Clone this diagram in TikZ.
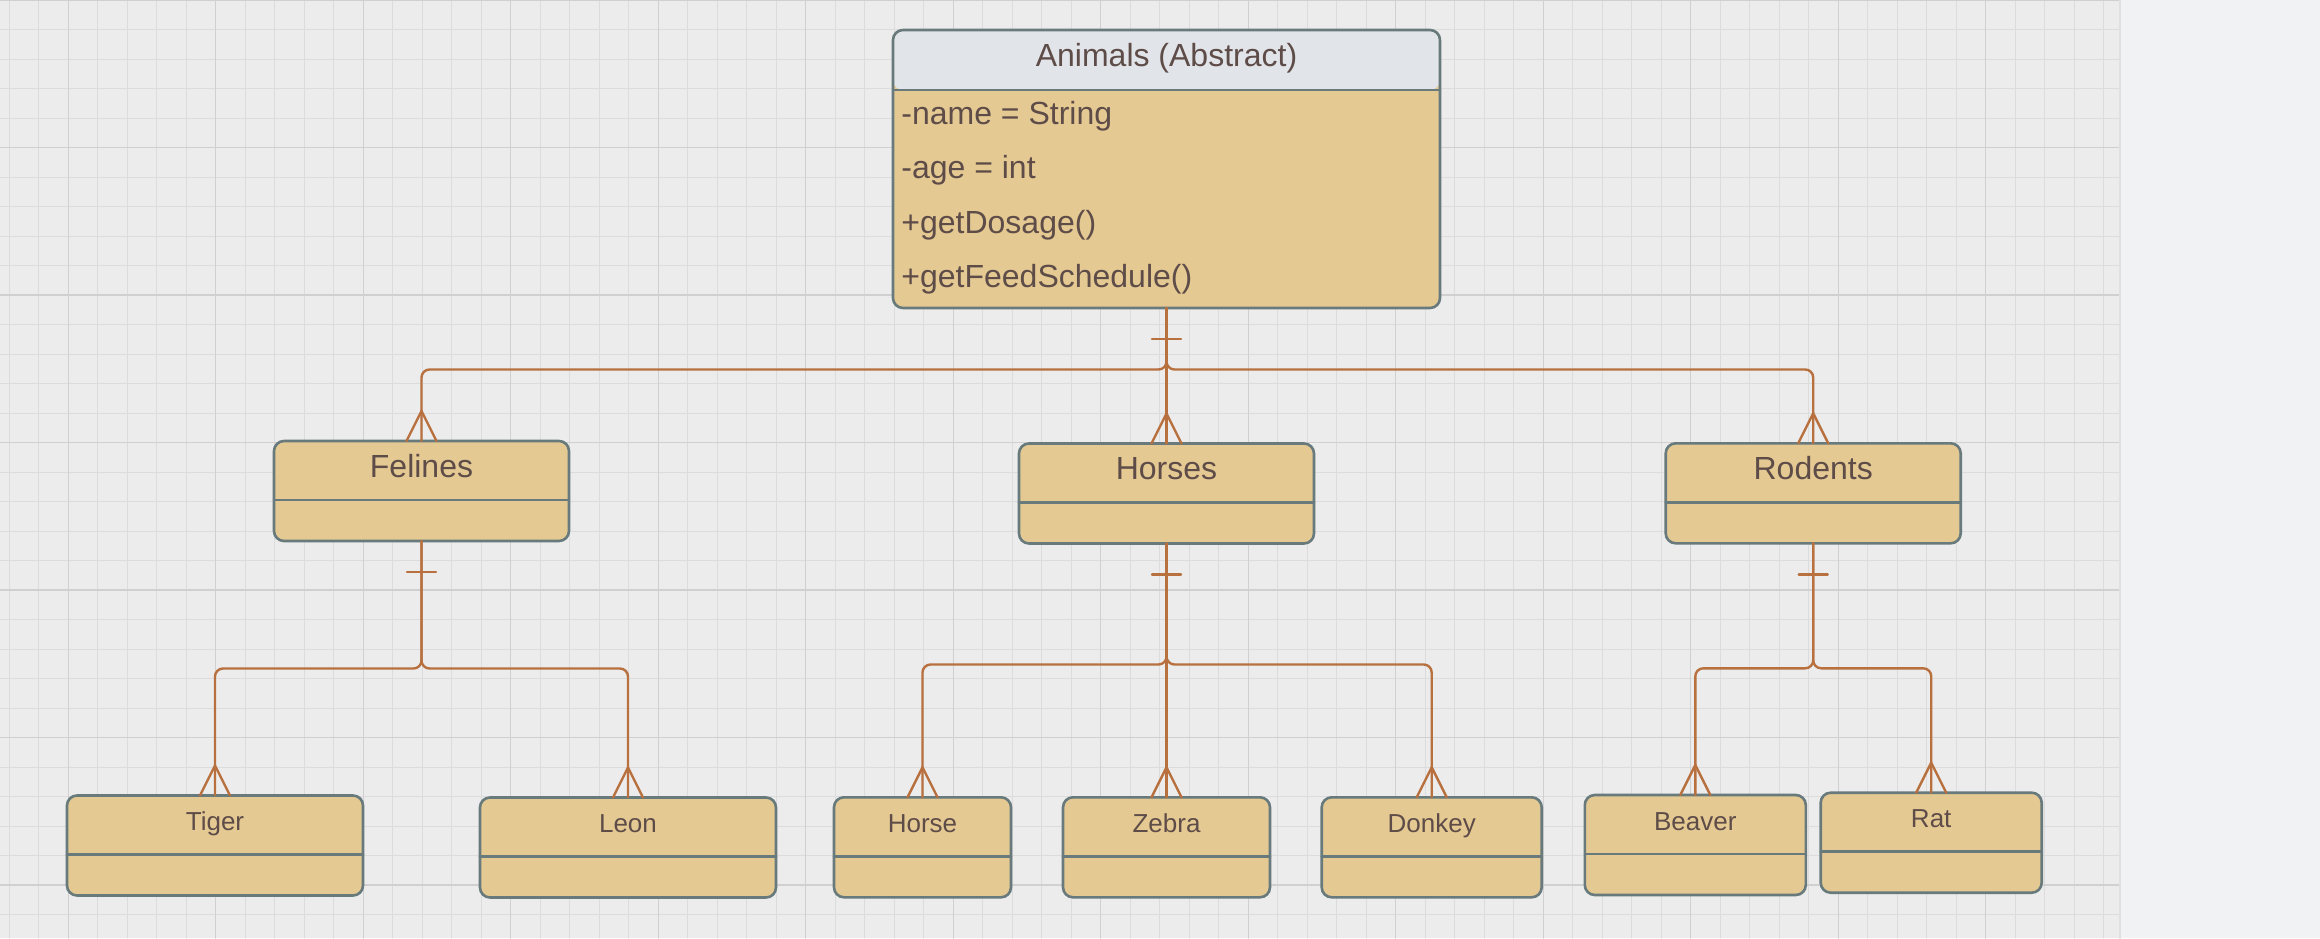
\documentclass[tikz,border=0pt]{standalone}
\usepackage{fontspec}
\setmainfont{Liberation Sans}
\usepackage{tikz}
\usetikzlibrary{calc}

\definecolor{gridbg}{HTML}{ECECEC}
\definecolor{gridminor}{HTML}{DCDCDC}
\definecolor{gridmajor}{HTML}{D0D0D0}
\definecolor{sidebg}{HTML}{F1F2F4}
\definecolor{boxfill}{HTML}{E5C993}
\definecolor{hdrfill}{HTML}{E1E4E8}
\definecolor{boxline}{HTML}{687A7C}
\definecolor{connline}{HTML}{B8703F}
\definecolor{txt}{HTML}{5E4C48}

\tikzset{
  classbox/.style={draw=boxline,fill=boxfill,line width=1.3pt,rounded corners=5pt,
    inner sep=0pt,outer sep=0pt,minimum height=50pt},
  conn/.style={draw=connline,line width=1.2pt,rounded corners=4pt},
  ttl/.style={anchor=base,inner sep=0pt,text=txt,font=\fontsize{16}{19}\selectfont},
  subttl/.style={ttl,font=\fontsize{13}{16}\selectfont},
  attr/.style={anchor=base west,inner sep=0pt,text=txt,font=\fontsize{16}{19}\selectfont},
}

\begin{document}
\begin{tikzpicture}[x=0.5pt,y=-0.5pt,line cap=round]
\useasboundingbox (0,0) rectangle (2320,938);
% canvas + grid
\fill[sidebg] (0,0) rectangle (2320,938);
\fill[gridbg] (0,0) rectangle (2119,938);
\foreach \i in {0,...,71}{\draw[gridminor,line width=0.5pt] (9.2+29.5*\i,0)--(9.2+29.5*\i,938);}
\foreach \j in {1,...,31}{\draw[gridminor,line width=0.5pt] (0,29.5*\j)--(2119,29.5*\j);}
\foreach \i in {0,...,13}{\draw[gridmajor,line width=0.6pt] (68.2+147.5*\i,0)--(68.2+147.5*\i,938);}
\foreach \j in {0,...,6}{\draw[gridmajor,line width=0.6pt] (0,147.5*\j)--(2119,147.5*\j);}
\draw[black!12,line width=1pt] (2120,0)--(2120,938);
% classes
\node[classbox,minimum width=273.5pt,minimum height=139pt,
  path picture={\fill[hdrfill] (path picture bounding box.north west)
    rectangle ([yshift=-30pt]path picture bounding box.north east);}] (animals) at (1166.5,169) {};
\node[classbox,minimum width=147.5pt] (felines) at (421.5,491) {};
\node[classbox,minimum width=147.5pt] (horses) at (1166.5,493.5) {};
\node[classbox,minimum width=147.5pt] (rodents) at (1813.2,493.3) {};
\node[classbox,minimum width=148pt] (tiger) at (215,845.5) {};
\node[classbox,minimum width=148pt] (leon) at (628,847.5) {};
\node[classbox,minimum width=88.5pt] (horse) at (922.5,847.3) {};
\node[classbox,minimum width=103.5pt] (zebra) at (1166.5,847.3) {};
\node[classbox,minimum width=110pt] (donkey) at (1431.7,847.3) {};
\node[classbox,minimum width=110.5pt] (beaver) at (1695.3,845) {};
\node[classbox,minimum width=110.5pt] (rat) at (1931.2,842.7) {};
% compartment lines
\draw[boxline,line width=1.3pt] ([yshift=-30pt]animals.north west)--([yshift=-30pt]animals.north east);
\foreach \b in {felines,horses,rodents,tiger,leon,horse,zebra,donkey,beaver,rat}{
  \draw[boxline,line width=1.3pt] ([yshift=-29.5pt]\b.north west)--([yshift=-29.5pt]\b.north east);}
% names
\node[ttl] (animals-t) at ([yshift=-18.3pt]animals.north) {Animals (Abstract)};
\foreach \b/\t in {felines/Felines,horses/Horses,rodents/Rodents}{
  \node[ttl] (\b-t) at ([yshift=-18pt]\b.north) {\t};}
\foreach \b/\t in {tiger/Tiger,leon/Leon,horse/Horse,zebra/Zebra,donkey/Donkey,beaver/Beaver,rat/Rat}{
  \node[subttl] (\b-t) at ([yshift=-17.5pt]\b.north) {\t};}
% attributes and methods
\foreach \t [count=\i from 0] in {-name = String,-age = int,+getDosage(),+getFeedSchedule()}{
  \node[attr] (attr\i) at ($(animals.north west)+(8,94+54.5*\i)$) {\t};}
% junctions
\coordinate (aj) at ($(animals.south)+(0,61.5)$);
\coordinate (fj) at ($(felines.south)+(0,127.5)$);
\coordinate (hj) at ($(horses.south)+(0,121)$);
\coordinate (rj) at ($(rodents.south)+(0,125)$);
% relations
\draw[conn] (animals.south)--(aj)-|(felines.north);
\draw[conn] (animals.south)--(horses.north);
\draw[conn] (animals.south)--(aj)-|(rodents.north);
\draw[conn] (felines.south)--(fj)-|(tiger.north);
\draw[conn] (felines.south)--(fj)-|(leon.north);
\draw[conn] (horses.south)--(hj)-|(horse.north);
\draw[conn] (horses.south)--(zebra.north);
\draw[conn] (horses.south)--(hj)-|(donkey.north);
\draw[conn] (rodents.south)--(rj)-|(beaver.north);
\draw[conn] (rodents.south)--(rj)-|(rat.north);
% one marks
\foreach \p in {animals,felines,horses,rodents}{
  \draw[conn] ([xshift=-7.25pt,yshift=-15.5pt]\p.south)--++(14.5pt,0);}
% crow's feet
\foreach \c in {felines,horses,rodents,tiger,leon,horse,zebra,donkey,beaver,rat}{
  \draw[conn,rounded corners=0pt] ([xshift=-7.5pt]\c.north)--([yshift=15pt]\c.north)--([xshift=7.5pt]\c.north);}
\end{tikzpicture}
\end{document}
